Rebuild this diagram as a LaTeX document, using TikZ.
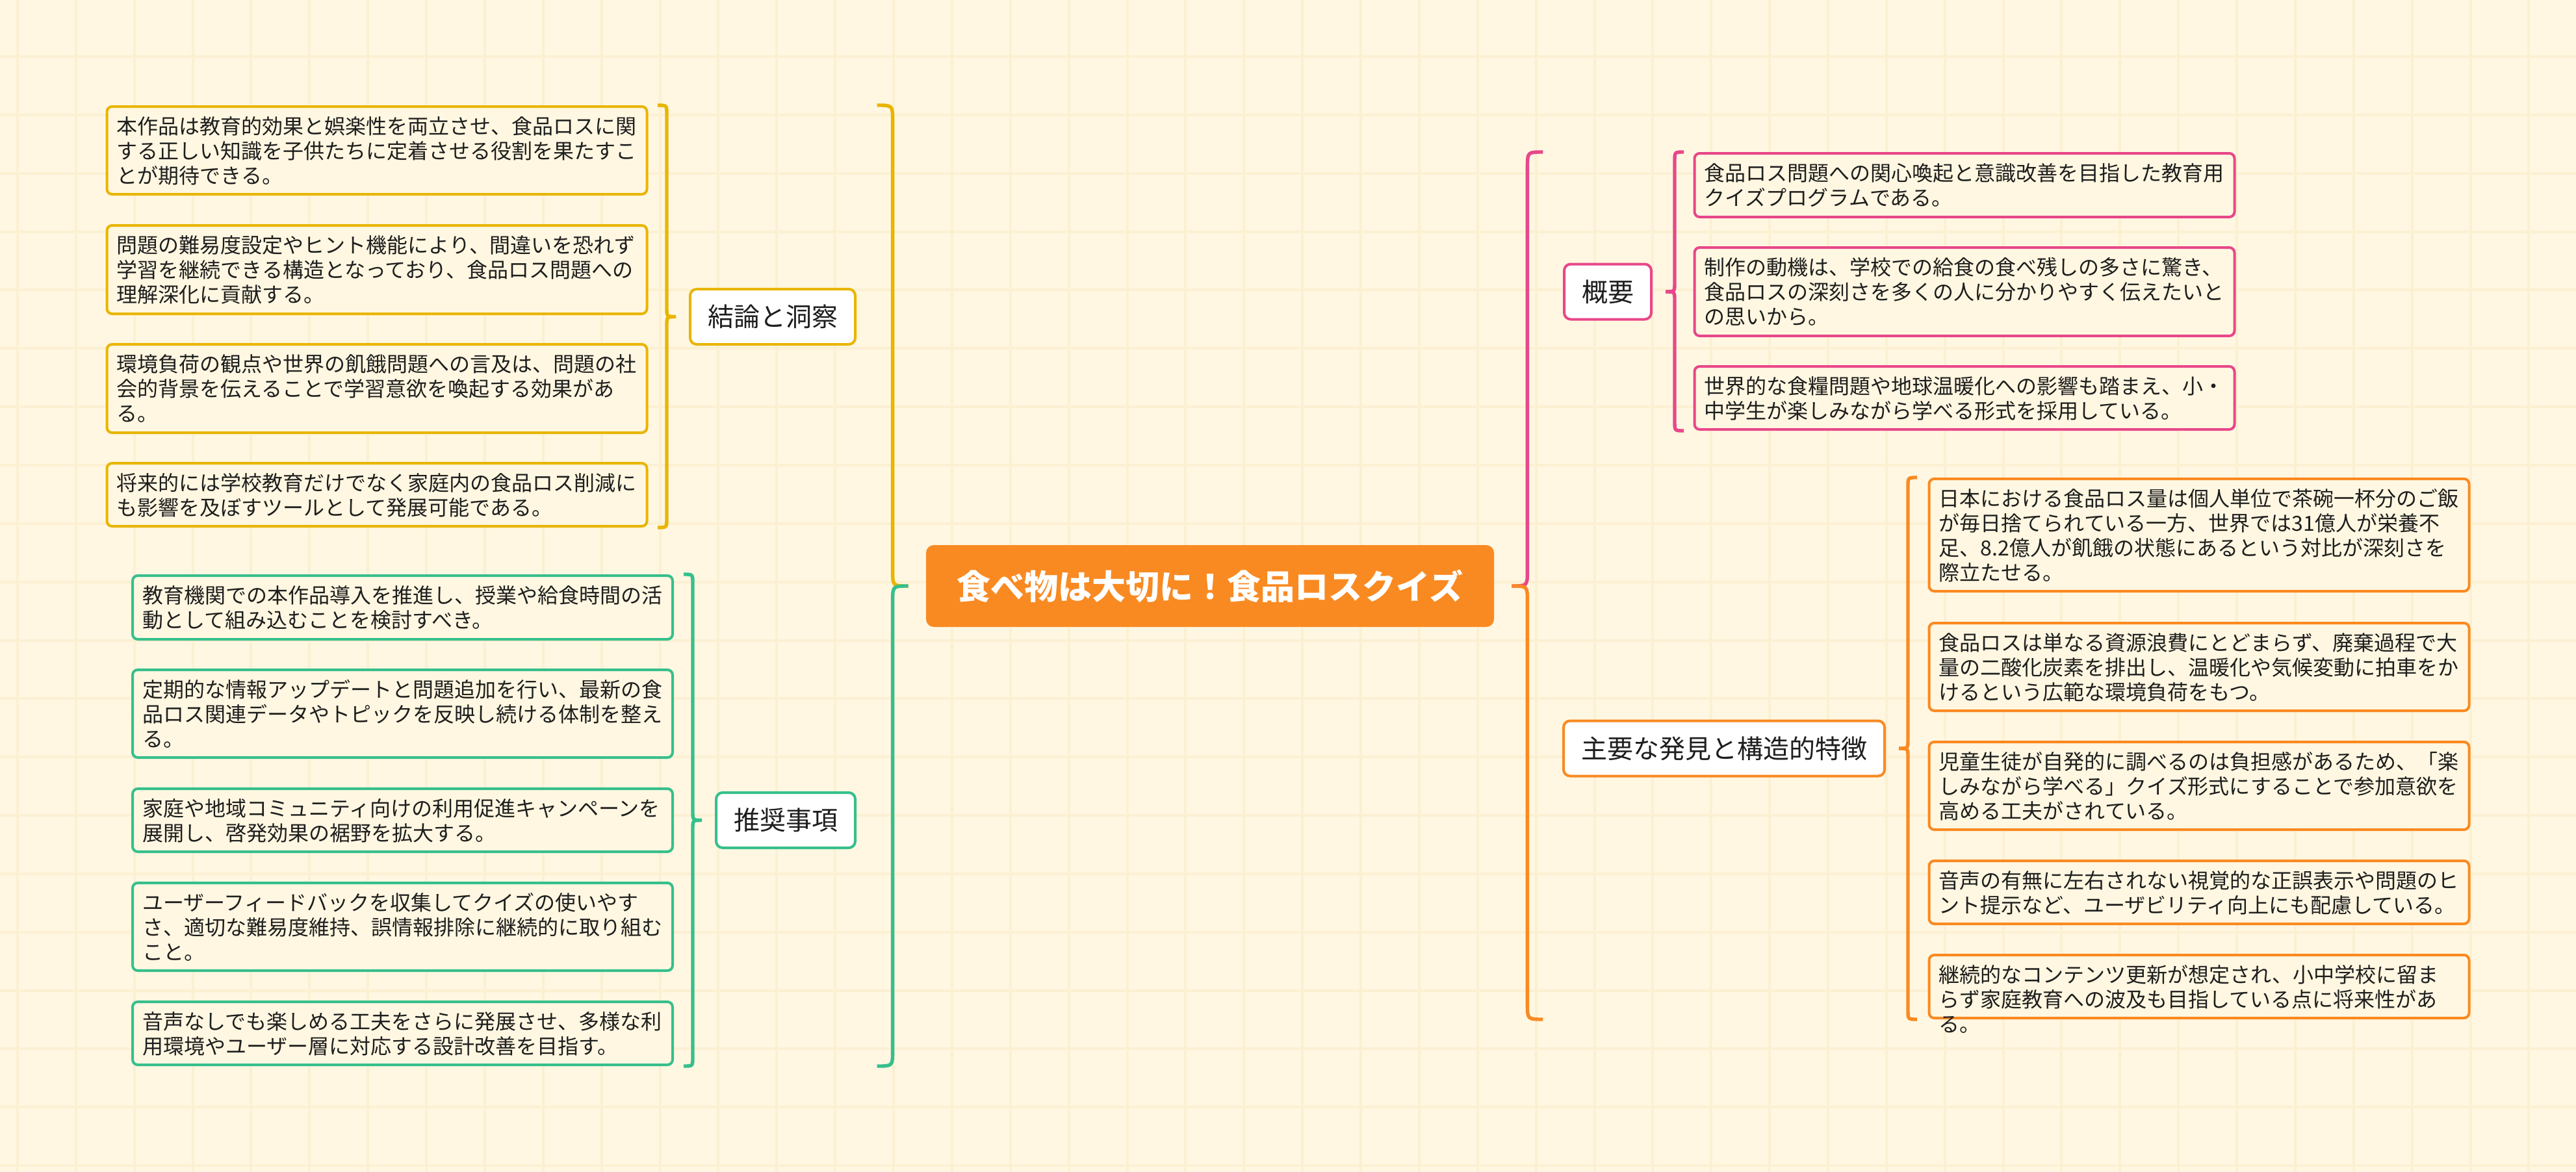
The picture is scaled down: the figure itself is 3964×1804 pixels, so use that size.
\documentclass[tikz,border=0pt]{standalone}
\usepackage{fontspec}
\setmainfont{Noto Sans CJK JP}
\usetikzlibrary{calc}
\definecolor{bgc}{HTML}{FFF7E1}
\definecolor{gridc}{HTML}{FCF0D3}
\definecolor{cyel}{HTML}{E9B500}
\definecolor{cgrn}{HTML}{36BF8C}
\definecolor{cpnk}{HTML}{E8478A}
\definecolor{corg}{HTML}{F98A22}
\definecolor{txt}{HTML}{1E1E1E}
\newcommand\leaffont{\fontsize{16pt}{19pt}\selectfont}
\newcommand\catfont{\fontsize{20pt}{24pt}\selectfont}
\newcommand\rootfont{\fontsize{26pt}{30pt}\selectfont\bfseries}
\newcommand\bracetop[5]{\draw[brc=#5] (#1) .. controls ([xshift=#3]#1) .. ([xshift=#3,yshift=-#4]#1) -- ([xshift={-1*(#3)},yshift=#4]#2) .. controls ([xshift={-1*(#3)}]#2) .. (#2);}
\newcommand\bracebot[5]{\draw[brc=#5] (#1) .. controls ([xshift={-1*(#3)}]#1) .. ([xshift={-1*(#3)},yshift=-#4]#1) -- ([xshift=#3,yshift=#4]#2) .. controls ([xshift=#3]#2) .. (#2);}
\tikzset{
 leafbox/.style={draw=#1, line width=2pt, rounded corners=4pt, fill=bgc, minimum width=415.5pt, inner sep=0pt},
 leaftxt/.style={anchor=north west, inner sep=0pt, text width=402pt, align=left, font=\leaffont, text=txt},
 catbox/.style={draw=#1, line width=2pt, rounded corners=5pt, fill=white, inner xsep=13.5pt, inner ysep=0pt, minimum height=42.5pt, font=\catfont, text=txt},
 rootbox/.style={fill=corg, rounded corners=6pt, minimum width=437pt, minimum height=63pt, inner sep=0pt, font=\rootfont, text=white},
 brc/.style={line width=2.7pt, draw=#1},
 gridline/.style={draw=gridc, line width=2pt},
}
\begin{document}
\begin{tikzpicture}[x=0.5pt,y=-0.5pt]
\useasboundingbox (0,0) rectangle (3964,1804);
\fill[bgc] (0,0) rectangle (3964,1804);
\foreach \i in {0,...,43} \draw[gridline] ({27+89.87*\i},0) -- ({27+89.87*\i},1804);
\foreach \j in {-1,...,19} \draw[gridline] (0,{87+89.85*\j}) -- (3964,{87+89.85*\j});

% root
\node[rootbox] (root) at (1862,902) {食べ物は大切に！食品ロスクイズ};

% categories
\node[catbox=cyel, anchor=east] (kc) at (1318,487.5) {結論と洞察};
\node[catbox=cgrn, anchor=east] (rc) at (1318,1262.5) {推奨事項};
\node[catbox=cpnk, anchor=west] (oc) at (2405,449) {概要};
\node[catbox=corg, anchor=west] (mc) at (2404,1152) {主要な発見と構造的特徴};

% 結論と洞察 leaves
\node[leafbox=cyel, minimum height=67.5pt] (k1) at (580,231.5) {};
\node[leaftxt] (k1t) at ([xshift=8.5pt,yshift=-8.5pt]k1.north west) {本作品は教育的効果と娯楽性を両立させ、食品ロスに関\\する正しい知識を子供たちに定着させる役割を果たすこ\\とが期待できる。};
\node[leafbox=cyel, minimum height=68pt] (k2) at (580,415) {};
\node[leaftxt] (k2t) at ([xshift=8.5pt,yshift=-8.5pt]k2.north west) {問題の難易度設定やヒント機能により、間違いを恐れず\\学習を継続できる構造となっており、食品ロス問題への\\理解深化に貢献する。};
\node[leafbox=cyel, minimum height=68pt] (k3) at (580,598) {};
\node[leaftxt] (k3t) at ([xshift=8.5pt,yshift=-8.5pt]k3.north west) {環境負荷の観点や世界の飢餓問題への言及は、問題の社\\会的背景を伝えることで学習意欲を喚起する効果があ\\る。};
\node[leafbox=cyel, minimum height=48.5pt] (k4) at (580,761.5) {};
\node[leaftxt] (k4t) at ([xshift=8.5pt,yshift=-8.5pt]k4.north west) {将来的には学校教育だけでなく家庭内の食品ロス削減に\\も影響を及ぼすツールとして発展可能である。};

% 推奨事項 leaves
\node[leafbox=cgrn, minimum height=49pt] (r1) at (619.5,935) {};
\node[leaftxt] (r1t) at ([xshift=8.5pt,yshift=-8.5pt]r1.north west) {教育機関での本作品導入を推進し、授業や給食時間の活\\動として組み込むことを検討すべき。};
\node[leafbox=cgrn, minimum height=67.5pt] (r2) at (619.5,1098.5) {};
\node[leaftxt] (r2t) at ([xshift=8.5pt,yshift=-8.5pt]r2.north west) {定期的な情報アップデートと問題追加を行い、最新の食\\品ロス関連データやトピックを反映し続ける体制を整え\\る。};
\node[leafbox=cgrn, minimum height=48.5pt] (r3) at (619.5,1262.5) {};
\node[leaftxt] (r3t) at ([xshift=8.5pt,yshift=-8.5pt]r3.north west) {家庭や地域コミュニティ向けの利用促進キャンペーンを\\展開し、啓発効果の裾野を拡大する。};
\node[leafbox=cgrn, minimum height=67.5pt] (r4) at (619.5,1426.5) {};
\node[leaftxt] (r4t) at ([xshift=8.5pt,yshift=-8.5pt]r4.north west) {ユーザーフィードバックを収集してクイズの使いやす\\さ、適切な難易度維持、誤情報排除に継続的に取り組む\\こと。};
\node[leafbox=cgrn, minimum height=48.5pt] (r5) at (619.5,1590.5) {};
\node[leaftxt] (r5t) at ([xshift=8.5pt,yshift=-8.5pt]r5.north west) {音声なしでも楽しめる工夫をさらに発展させ、多様な利\\用環境やユーザー層に対応する設計改善を目指す。};

% 概要 leaves
\node[leafbox=cpnk, minimum height=49pt] (o1) at (3023,285) {};
\node[leaftxt] (o1t) at ([xshift=8.5pt,yshift=-8.5pt]o1.north west) {食品ロス問題への関心喚起と意識改善を目指した教育用\\クイズプログラムである。};
\node[leafbox=cpnk, minimum height=68pt] (o2) at (3023,449) {};
\node[leaftxt] (o2t) at ([xshift=8.5pt,yshift=-8.5pt]o2.north west) {制作の動機は、学校での給食の食べ残しの多さに驚き、\\食品ロスの深刻さを多くの人に分かりやすく伝えたいと\\の思いから。};
\node[leafbox=cpnk, minimum height=48.5pt] (o3) at (3023,612.5) {};
\node[leaftxt] (o3t) at ([xshift=8.5pt,yshift=-8.5pt]o3.north west) {世界的な食糧問題や地球温暖化への影響も踏まえ、小・\\中学生が楽しみながら学べる形式を採用している。};

% 主要な発見と構造的特徴 leaves
\node[leafbox=corg, minimum height=86.5pt] (m1) at (3384,823.5) {};
\node[leaftxt] (m1t) at ([xshift=8.5pt,yshift=-8.5pt]m1.north west) {日本における食品ロス量は個人単位で茶碗一杯分のご飯\\が毎日捨てられている一方、世界では31億人が栄養不\\足、8.2億人が飢餓の状態にあるという対比が深刻さを\\際立たせる。};
\node[leafbox=corg, minimum height=67.5pt] (m2) at (3384,1026.5) {};
\node[leaftxt] (m2t) at ([xshift=8.5pt,yshift=-8.5pt]m2.north west) {食品ロスは単なる資源浪費にとどまらず、廃棄過程で大\\量の二酸化炭素を排出し、温暖化や気候変動に拍車をか\\けるという広範な環境負荷をもつ。};
\node[leafbox=corg, minimum height=67.5pt] (m3) at (3384,1209.5) {};
\node[leaftxt] (m3t) at ([xshift=8.5pt,yshift=-8.5pt]m3.north west) {児童生徒が自発的に調べるのは負担感があるため、「楽\\しみながら学べる」クイズ形式にすることで参加意欲を\\高める工夫がされている。};
\node[leafbox=corg, minimum height=48.5pt] (m4) at (3384,1373.5) {};
\node[leaftxt] (m4t) at ([xshift=8.5pt,yshift=-8.5pt]m4.north west) {音声の有無に左右されない視覚的な正誤表示や問題のヒ\\ント提示など、ユーザビリティ向上にも配慮している。};
\node[leafbox=corg, minimum height=48.5pt] (m5) at (3384,1518.5) {};
\node[leaftxt] (m5t) at ([xshift=8.5pt,yshift=-8.5pt]m5.north west) {継続的なコンテンツ更新が想定され、小中学校に留ま\\らず家庭教育への波及も目指している点に将来性があ\\る。};

% sub braces
\coordinate (ktip) at ([xshift=-10pt]kc.west);
\coordinate (ktx) at ([xshift=-14pt]ktip);
\coordinate (ktop) at (ktx |- k1.north);
\coordinate (kbot) at (ktx |- k4.south);
\bracetop{ktop}{ktip}{7pt}{7pt}{cyel}
\bracebot{ktip}{kbot}{7pt}{7pt}{cyel}

\coordinate (rtip2) at ([xshift=-10pt]rc.west);
\coordinate (rtx2) at ([xshift=-14pt]rtip2);
\coordinate (rtop2) at (rtx2 |- r1.north);
\coordinate (rbot2) at (rtx2 |- r5.south);
\bracetop{rtop2}{rtip2}{7pt}{7pt}{cgrn}
\bracebot{rtip2}{rbot2}{7pt}{7pt}{cgrn}

\coordinate (otip) at ([xshift=10pt]oc.east);
\coordinate (otx) at ([xshift=14pt]otip);
\coordinate (otop) at (otx |- o1.north);
\coordinate (obot) at (otx |- o3.south);
\bracetop{otop}{otip}{-7pt}{7pt}{cpnk}
\bracebot{otip}{obot}{-7pt}{7pt}{cpnk}

\coordinate (mtip) at ([xshift=10pt]mc.east);
\coordinate (mtx) at ([xshift=14pt]mtip);
\coordinate (mtop) at (mtx |- m1.north);
\coordinate (mbot) at (mtx |- m5.south);
\bracetop{mtop}{mtip}{-7pt}{7pt}{corg}
\bracebot{mtip}{mbot}{-7pt}{7pt}{corg}

% main braces
\coordinate (ltip) at ([xshift=-13.5pt]root.west);
\coordinate (ltx) at ([xshift=-24pt]ltip);
\coordinate (ltop) at (ltx |- k1.north);
\coordinate (lbot) at (ltx |- r5.south);
\bracetop{ltop}{ltip}{12pt}{12pt}{cyel}
\bracebot{ltip}{lbot}{12pt}{12pt}{cgrn}

\coordinate (rtip) at ([xshift=13.5pt]root.east);
\coordinate (rtx) at ([xshift=24pt]rtip);
\coordinate (rtop) at (rtx |- o1.north);
\coordinate (rbot) at (rtx |- m5.south);
\bracetop{rtop}{rtip}{-12pt}{12pt}{cpnk}
\bracebot{rtip}{rbot}{-12pt}{12pt}{corg}
\end{tikzpicture}
\end{document}
